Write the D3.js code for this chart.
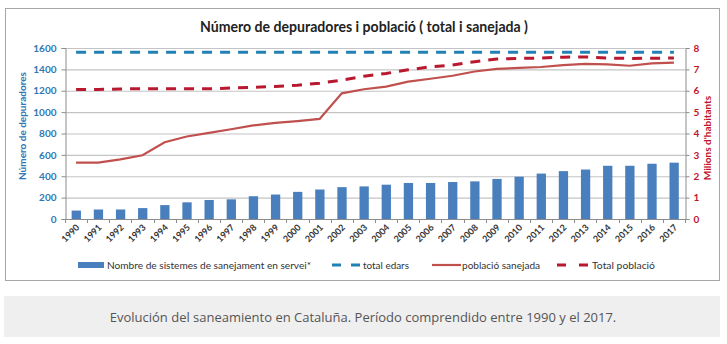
<!DOCTYPE html>
<html><head><meta charset="utf-8">
<script src="https://cdn.jsdelivr.net/npm/d3@7"></script>
<style>body{margin:0;background:#fff;} svg{display:block;}</style>
</head><body>
<svg id="chart" width="727" height="344"></svg>
<script>
const years = [1990,1991,1992,1993,1994,1995,1996,1997,1998,1999,2000,2001,2002,2003,2004,2005,2006,2007,2008,2009,2010,2011,2012,2013,2014,2015,2016,2017];
const sistemes = [79,89,89,102,130,156,178,184,213,229,254,276,298,305,321,337,337,346,352,375,396,425,448,463,498,498,517,527];
const totalEdars = [1560,1560,1560,1560,1560,1560,1560,1560,1560,1560,1560,1560,1560,1560,1560,1560,1560,1560,1560,1560,1560,1560,1560,1560,1560,1560,1560,1560];
const poblacioSanejada = [2.64,2.64,2.79,2.98,3.59,3.86,4.03,4.2,4.38,4.5,4.58,4.68,5.88,6.07,6.19,6.43,6.56,6.7,6.9,7.02,7.07,7.11,7.2,7.26,7.23,7.17,7.28,7.32];
const totalPoblacio = [6.06,6.06,6.08,6.1,6.09,6.09,6.09,6.13,6.16,6.2,6.26,6.35,6.5,6.68,6.81,6.98,7.12,7.2,7.36,7.48,7.51,7.53,7.57,7.58,7.53,7.51,7.52,7.53];
const leftTicks = [0,200,400,600,800,1000,1200,1400,1600];
const rightTicks = [0,1,2,3,4,5,6,7,8];
const title = "Número de depuradores i població ( total i sanejada )";
const leftTitle = "Número de depuradores";
const rightTitle = "Milions d'habitants";
const legendLabels = ["Nombre de sistemes de sanejament en servei*","total edars","població sanejada","Total població"];
const caption = "Evolución del saneamiento en Cataluña. Período comprendido entre 1990 y el 2017.";

const svg = d3.select("#chart");
const F = "Lato, 'Liberation Sans', sans-serif";
const blueBar = "#4a7fbd", blueDash = "#2181b5", redDash = "#b8192e", redLine = "#c0504d";
const blueTxt = "#2f78b5", redTxt = "#c0122a";

// frame
svg.append("rect").attr("x",5.5).attr("y",8.5).attr("width",714).attr("height",272)
  .attr("fill","#fff").attr("stroke","#a6a6a6");
// caption box
svg.append("rect").attr("x",4).attr("y",296).attr("width",716).attr("height",41).attr("fill","#efefef");
svg.append("text").attr("x",363).attr("y",322).attr("text-anchor","middle")
  .attr("font-family","'Open Sans', sans-serif").attr("font-size",13).attr("fill","#555").text(caption);

const L=65, R=685, T=48, B=219;
const x = d3.scaleBand().domain(years).range([L,R]).padding(0);
const yL = d3.scaleLinear().domain([0,1600]).range([B,T]);
const yR = d3.scaleLinear().domain([0,8]).range([B,T]);
const bw = x.bandwidth();

// gridlines
svg.append("g").selectAll("line").data(leftTicks.filter(d=>d>0)).join("line")
  .attr("x1",L).attr("x2",R).attr("y1",d=>yL(d)+0.5).attr("y2",d=>yL(d)+0.5)
  .attr("stroke","#c4c4c4").attr("stroke-width",1.2);

// bars
svg.append("g").selectAll("rect").data(years).join("rect")
  .attr("x",(d)=>x(d)+bw*0.3).attr("width",bw*0.42)
  .attr("y",(d,i)=>yL(sistemes[i])).attr("height",(d,i)=>B-yL(sistemes[i]))
  .attr("fill",blueBar);

// axes
const axL = svg.append("g").attr("transform",`translate(${L+0.5},0)`)
  .call(d3.axisLeft(yL).tickValues(leftTicks).tickFormat(d3.format("d")).tickSize(4).tickPadding(5));
axL.select(".domain").attr("stroke","#8c8c8c");
axL.selectAll(".tick line").attr("stroke","#8c8c8c");
axL.selectAll("text").attr("fill",blueTxt).attr("font-family",F).attr("font-weight","bold").attr("font-size",10);

const axR = svg.append("g").attr("transform",`translate(${R+0.5},0)`)
  .call(d3.axisRight(yR).tickValues(rightTicks).tickFormat(d3.format("d")).tickSize(4).tickPadding(4));
axR.select(".domain").attr("stroke","#8c8c8c");
axR.selectAll(".tick line").attr("stroke","#8c8c8c");
axR.selectAll("text").attr("fill",redTxt).attr("font-family",F).attr("font-weight","bold").attr("font-size",10);

// x axis
const gx = svg.append("g");
gx.append("line").attr("x1",L).attr("x2",R).attr("y1",B+0.5).attr("y2",B+0.5).attr("stroke","#8c8c8c");
gx.selectAll("line.t").data(years.concat(["end"])).join("line").attr("class","t")
  .attr("x1",d=>d==="end"?R+0.5:Math.round(x(d))+0.5).attr("x2",d=>d==="end"?R+0.5:Math.round(x(d))+0.5)
  .attr("y1",B).attr("y2",B+4).attr("stroke","#8c8c8c");
gx.selectAll("text").data(years).join("text")
  .attr("transform",d=>`translate(${x(d)+bw/2+4},${B+9}) rotate(-45)`)
  .attr("text-anchor","end").attr("font-family",F).attr("font-weight","bold").attr("font-size",9)
  .attr("fill","#333").text(d=>d);

// lines
const lineL = d3.line().x((d,i)=>x(years[i])+bw/2).y(d=>yL(d));
const lineR = d3.line().x((d,i)=>x(years[i])+bw/2).y(d=>yR(d));
svg.append("path").datum(totalEdars).attr("d",lineL).attr("fill","none")
  .attr("stroke",blueDash).attr("stroke-width",3).attr("stroke-dasharray","10,8");
svg.append("path").datum(poblacioSanejada).attr("d",lineR).attr("fill","none")
  .attr("stroke",redLine).attr("stroke-width",2.2);
svg.append("path").datum(totalPoblacio).attr("d",lineR).attr("fill","none")
  .attr("stroke",redDash).attr("stroke-width",3).attr("stroke-dasharray","10,8");

// title
svg.append("text").attr("x",364).attr("y",32).attr("text-anchor","middle")
  .attr("font-family",F).attr("font-weight","bold").attr("font-size",14.5).attr("fill","#222")
  .attr("textLength",328).attr("lengthAdjust","spacingAndGlyphs").text(title);

// axis titles
svg.append("text").attr("transform","translate(26,126) rotate(-90)").attr("text-anchor","middle")
  .attr("font-family",F).attr("font-weight","bold").attr("font-size",10).attr("fill",blueTxt).text(leftTitle);
svg.append("text").attr("transform","translate(711,138) rotate(-90)").attr("text-anchor","middle")
  .attr("font-family",F).attr("font-weight","bold").attr("font-size",10).attr("fill",redTxt).text(rightTitle);

// legend
const ly = 265;
const lg = svg.append("g").attr("font-family",F).attr("font-size",9.5).attr("fill","#333");
lg.append("rect").attr("x",78).attr("y",ly-3).attr("width",26).attr("height",6).attr("fill",blueBar);
lg.append("text").attr("x",107).attr("y",ly+3.5).attr("textLength",204).attr("lengthAdjust","spacingAndGlyphs").text(legendLabels[0]);
lg.append("line").attr("x1",332).attr("x2",360).attr("y1",ly).attr("y2",ly).attr("stroke",blueDash).attr("stroke-width",3).attr("stroke-dasharray","9,10");
lg.append("text").attr("x",363).attr("y",ly+3.5).attr("textLength",46).attr("lengthAdjust","spacingAndGlyphs").text(legendLabels[1]);
lg.append("line").attr("x1",432).attr("x2",461).attr("y1",ly).attr("y2",ly).attr("stroke",redLine).attr("stroke-width",2.2);
lg.append("text").attr("x",462).attr("y",ly+3.5).attr("textLength",78).attr("lengthAdjust","spacingAndGlyphs").text(legendLabels[2]);
lg.append("line").attr("x1",557).attr("x2",589).attr("y1",ly).attr("y2",ly).attr("stroke",redDash).attr("stroke-width",3).attr("stroke-dasharray","9,13");
lg.append("text").attr("x",592).attr("y",ly+3.5).attr("textLength",63).attr("lengthAdjust","spacingAndGlyphs").text(legendLabels[3]);
</script>
</body></html>
